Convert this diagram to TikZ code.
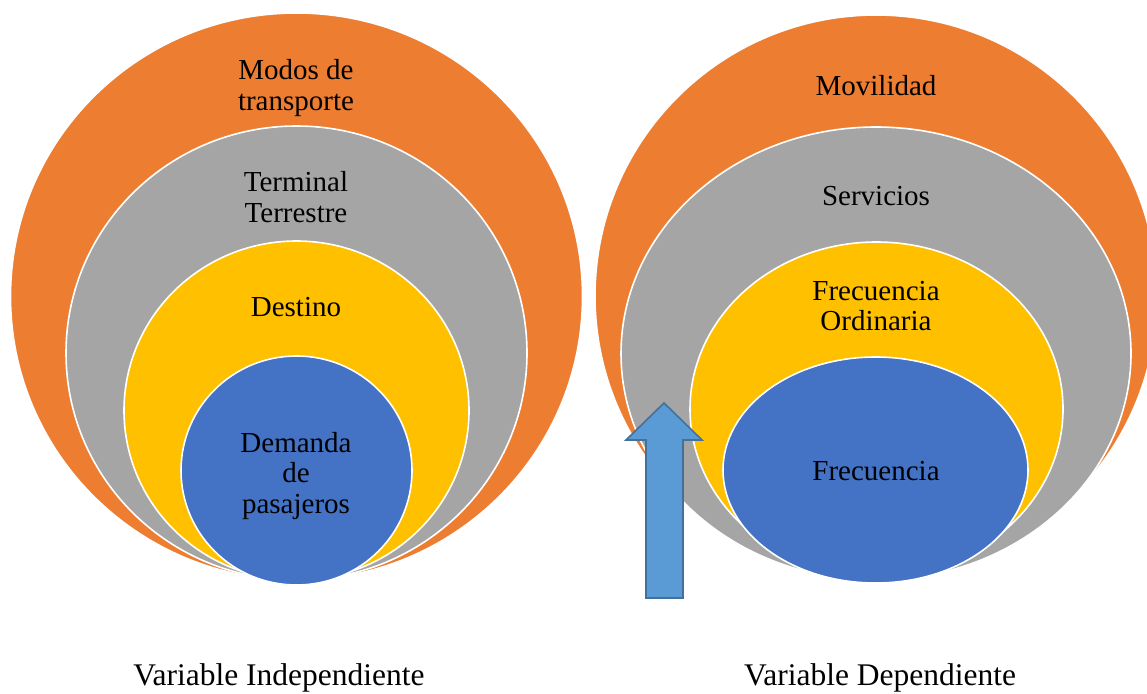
\documentclass[tikz,border=0pt]{standalone}
\usepackage{fontspec}
\setmainfont{Liberation Serif}
\usepackage{tikz}
\usetikzlibrary{shapes.geometric}

\definecolor{naranja}{HTML}{ED7D31}
\definecolor{gris}{HTML}{A5A5A5}
\definecolor{amarillo}{HTML}{FFC000}
\definecolor{azul}{HTML}{4472C4}
\definecolor{flecha}{HTML}{5B9BD5}
\definecolor{flechaborde}{HTML}{41719C}

\tikzset{
  capa/.style={ellipse, draw=white, line width=1.6pt, inner sep=0pt, outer sep=0pt},
  etiqueta/.style={align=center, font=\fontsize{29}{30.5}\selectfont},
  pie/.style={anchor=base, font=\fontsize{31.5}{33}\selectfont},
}

\begin{document}
\begin{tikzpicture}[x=1pt, y=-1pt]
    \useasboundingbox (0,0) rectangle (1147,693);
    \clip (0,0) rectangle (1147,693);
    % variable independiente: circulos anidados
    \node[capa, fill=naranja,  minimum width=572pt, minimum height=567pt] (extI) at (296.5,296.5) {};
    \node[capa, fill=gris,     minimum width=461pt, minimum height=454pt] (grisI) at (296.5,353) {};
    \node[capa, fill=amarillo, minimum width=345pt, minimum height=339pt] (amaI) at (296.5,410.5) {};
    \node[capa, fill=azul,     minimum width=231pt, minimum height=229pt] (azulI) at (296.5,470.5) {};
    \node[etiqueta] (modos)    at (296,88)  {Modos de\\transporte};
    \node[etiqueta] (terminal) at (296,197) {Terminal\\Terrestre};
    \node[etiqueta] (destino)  at (296,307) {Destino};
    \node[etiqueta] (demanda)  at (296,476) {Demanda\\de\\pasajeros};
    % variable dependiente: elipses anidadas
    \node[capa, fill=naranja,  minimum width=562pt, minimum height=562pt] (extD) at (876,296) {};
    \node[capa, fill=gris,     minimum width=510pt, minimum height=453pt] (grisD) at (876,353.5) {};
    \node[capa, fill=amarillo, minimum width=373pt, minimum height=334pt] (amaD) at (876.5,409) {};
    \node[capa, fill=azul,     minimum width=305pt, minimum height=226pt] (azulD) at (875.5,470) {};
    \node[etiqueta] (movilidad) at (876,86)  {Movilidad};
    \node[etiqueta] (servicios) at (876,196) {Servicios};
    \node[etiqueta] (frecord)   at (876,306) {Frecuencia\\Ordinaria};
    \node[etiqueta] (frec)      at (876,471) {Frecuencia};
    % flecha hacia arriba
    \draw[flechaborde, fill=flecha, line width=1.6pt, line join=miter]
      (646,598) -- (646,440) -- (626,440) -- (664,403) -- (702,440)
      -- (683,440) -- (683,598) -- cycle;
    \node[pie] (varind) at (279,685) {Variable Independiente};
    \node[pie] (vardep) at (880,685) {Variable Dependiente};
\end{tikzpicture}
\end{document}
